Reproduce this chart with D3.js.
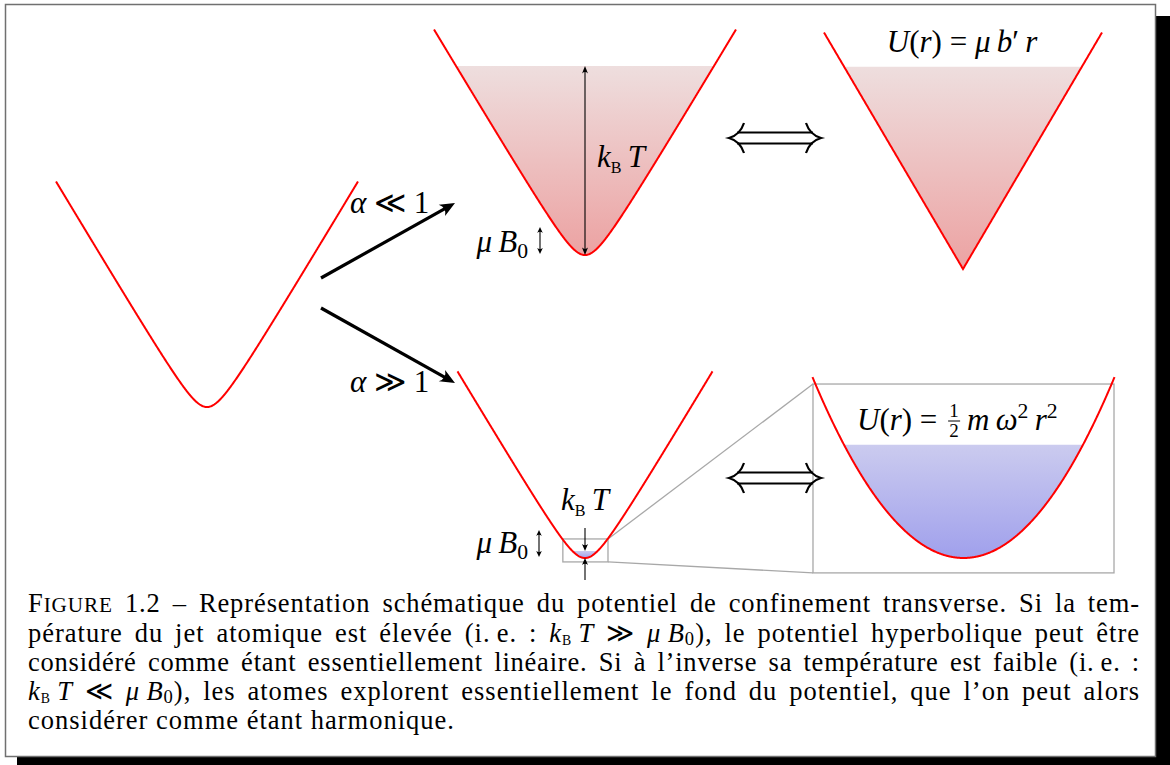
<!DOCTYPE html>
<html>
<head>
<meta charset="utf-8">
<script src="https://cdn.jsdelivr.net/npm/d3@7"></script>
<style>
body { margin: 0; background: #fff; }
svg { display: block; }
text { font-family: "Liberation Serif", "DejaVu Serif", serif; fill: #000; white-space: pre; }
</style>
</head>
<body>
<svg width="1170" height="765"></svg>
<script>
// potentials, energies in units of mu B0, r in units of B0/b'
var panelNames = ['start', 'hot', 'linear', 'cold', 'harmonic'];
var panelKinds = ['hyperbolic', 'hyperbolic', 'linear', 'hyperbolic', 'harmonic'];
var panelRmax = [9, 9, 8.3, 7.6, 1.35];
var panelLevel = [null, 6.75, 7.1, 0.25, 0.57];   // thermal level k_B T above the minimum
var zoomWindowR = [-1.32, 1.37];                   // small window on the cold panel
var zoomWindowU = [-0.14, 0.68];
var harmonicWindowR = [-1.345, 1.345];
var harmonicWindowU = [-0.075, 0.876];
var regimeLabels = ['α ≪ 1', 'α ≫ 1'];

var captionLines = [
    [['F'], ['IGURE', 'smc'], [' 1.2 – Représentation schématique du potentiel de confinement transverse. Si la tem-']],
    [['pérature du jet atomique est élevée (i.\u2009e. : '], ['k', 'i'], ['B', 'sc'], ['\u2009'], ['T', 'i'], [' ≫ '], ['μ', 'i'], ['\u2009'], ['B', 'i'], ['0', 'sub'], ['), le potentiel hyperbolique peut être']],
    [['considéré comme étant essentiellement linéaire. Si à l’inverse sa température est faible (i.\u2009e. :']],
    [['k', 'i'], ['B', 'sc'], ['\u2009'], ['T', 'i'], [' ≪ '], ['μ', 'i'], ['\u2009'], ['B', 'i'], ['0', 'sub'], ['), les atomes explorent essentiellement le fond du potentiel, que l’on peut alors']],
    [['considérer comme étant harmonique.']]
];

var U = {
    hyperbolic: function (r) { return Math.sqrt(1 + r * r) - 1; },
    linear: function (r) { return Math.abs(r); },
    harmonic: function (r) { return r * r / 2; }
};
var Uinv = {
    hyperbolic: function (u) { return Math.sqrt((u + 1) * (u + 1) - 1); },
    linear: function (u) { return u; },
    harmonic: function (u) { return Math.sqrt(2 * u); }
};

// where each panel sits on the page
var layout = {
    start:    { cx: 207,   y0: 407, sx: 16.78, sy: 28 },
    hot:      { cx: 585,   y0: 255, sx: 16.78, sy: 28 },
    linear:   { cx: 963,   y0: 269, sx: 16.75, sy: 28.5 },
    cold:     { cx: 585,   y0: 558, sx: 16.78, sy: 28 },
    harmonic: { cx: 963.5, y0: 558, sx: 111.9, sy: 198.6 }
};

var svg = d3.select('svg');
var defs = svg.append('defs');

// frame with shadow
svg.append('rect').attr('x', 17).attr('y', 16).attr('width', 1153).attr('height', 760).attr('fill', '#000');
svg.append('rect').attr('x', 5.5).attr('y', 4.5).attr('width', 1150).attr('height', 752)
    .attr('fill', '#fff').attr('stroke', '#707070').attr('stroke-width', 1.5);

var scales = {};
panelNames.forEach(function (n, i) {
    var L = layout[n], rm = panelRmax[i];
    scales[n] = {
        x: d3.scaleLinear().domain([-rm, rm]).range([L.cx - rm * L.sx, L.cx + rm * L.sx]),
        y: d3.scaleLinear().domain([0, 1]).range([L.y0, L.y0 - L.sy])
    };
});

function gradient(id, y1, y2, c1, c2) {
    var g = defs.append('linearGradient').attr('id', id).attr('gradientUnits', 'userSpaceOnUse')
        .attr('x1', 0).attr('x2', 0).attr('y1', y1).attr('y2', y2);
    g.append('stop').attr('offset', 0).attr('stop-color', c1);
    g.append('stop').attr('offset', 1).attr('stop-color', c2);
}

// zoom window lines (under the curves)
var zs = scales.cold, hs = scales.harmonic;
var zx0 = zs.x(zoomWindowR[0]), zx1 = zs.x(zoomWindowR[1]);
var zy0 = zs.y(zoomWindowU[1]), zy1 = zs.y(zoomWindowU[0]);
var hx0 = hs.x(harmonicWindowR[0]), hx1 = hs.x(harmonicWindowR[1]);
var hy0 = hs.y(harmonicWindowU[1]), hy1 = hs.y(harmonicWindowU[0]);
var gray = svg.append('g').attr('fill', 'none').attr('stroke', '#a8a8a8').attr('stroke-width', 1.3);
gray.append('line').attr('x1', zx1).attr('y1', zy0).attr('x2', hx0).attr('y2', hy0);
gray.append('line').attr('x1', zx1).attr('y1', zy1).attr('x2', hx0).attr('y2', hy1);

// fills and curves
panelNames.forEach(function (n, i) {
    var s = scales[n], kind = panelKinds[i], f = U[kind], rm = panelRmax[i];
    var lev = panelLevel[i];
    if (lev !== null) {
        var rf = Uinv[kind](lev);
        var blue = (n === 'cold' || n === 'harmonic');
        gradient('g' + n, s.y(lev), s.y(0),
            blue ? '#cbcbef' : '#eedede', blue ? '#a0a0ec' : '#eca2a2');
        var pts = d3.range(-rf, rf + 1e-9, rf / 150);
        svg.append('path')
            .attr('d', d3.area()
                .x(function (r) { return s.x(r); })
                .y0(s.y(lev))
                .y1(function (r) { return s.y(f(r)); })(pts))
            .attr('fill', 'url(#g' + n + ')');
    }
    var rs = d3.range(-rm, rm + 1e-9, rm / 300);
    svg.append('path')
        .attr('d', d3.line()
            .x(function (r) { return s.x(r); })
            .y(function (r) { return s.y(f(r)); })(rs))
        .attr('fill', 'none').attr('stroke', '#ff0000').attr('stroke-width', 2);
});

gray.append('rect').attr('x', zx0).attr('y', zy0).attr('width', zx1 - zx0).attr('height', zy1 - zy0);
gray.append('rect').attr('x', hx0).attr('y', hy0).attr('width', hx1 - hx0).attr('height', hy1 - hy0);

// arrows
function head(x, y, ang, len, w) {
    var p = 'M0,0 L' + (-len) + ',' + (-w) + ' Q' + (-len * 0.62) + ',0 ' + (-len) + ',' + w + ' Z';
    svg.append('path').attr('d', p).attr('fill', '#000')
        .attr('transform', 'translate(' + x + ',' + y + ') rotate(' + ang + ')');
}
function arrow(x1, y1, x2, y2, o) {
    var ang = Math.atan2(y2 - y1, x2 - x1);
    var deg = ang * 180 / Math.PI;
    var bx = x2 - Math.cos(ang) * o.len * 0.6, by = y2 - Math.sin(ang) * o.len * 0.6;
    var ax = x1, ay = y1;
    if (o.both) { ax = x1 + Math.cos(ang) * o.len * 0.6; ay = y1 + Math.sin(ang) * o.len * 0.6; }
    svg.append('line').attr('x1', ax).attr('y1', ay).attr('x2', bx).attr('y2', by)
        .attr('stroke', '#000').attr('stroke-width', o.sw);
    head(x2, y2, deg, o.len, o.w);
    if (o.both) head(x1, y1, deg + 180, o.len, o.w);
}
var thick = { len: 15, w: 6.5, sw: 3.2 };
arrow(321, 278, 455, 203, thick);
arrow(321, 308, 455, 383, thick);

var thin = { len: 7.5, w: 3, sw: 1.1, both: true };
var hot = scales.hot, cold = scales.cold;
arrow(hot.x(0), hot.y(0), hot.x(0), hot.y(panelLevel[1]), thin);
var small = { len: 6, w: 2.8, sw: 1.1, both: true };
arrow(540, hot.y(0) - 1, 540, hot.y(1), small);
arrow(539, cold.y(0) - 1, 539, cold.y(1), small);
var one = { len: 7, w: 3, sw: 1.1 };
arrow(cold.x(0), cold.y(panelLevel[3]) - 23, cold.x(0), cold.y(panelLevel[3]), one);
arrow(cold.x(0), cold.y(0) + 22, cold.x(0), cold.y(0), one);

// double implication arrows
function implies(cx, cy) {
    var g = svg.append('g').attr('fill', 'none').attr('stroke', '#000').attr('stroke-width', 2.2);
    g.append('path').attr('d', 'M' + (cx - 38) + ',' + (cy - 5.5) + 'H' + (cx + 38) +
        'M' + (cx - 38) + ',' + (cy + 5.5) + 'H' + (cx + 38));
    g.append('path').attr('d', 'M' + (cx - 31) + ',' + (cy - 15) + ' Q' + (cx - 35) + ',' + (cy - 3) + ' ' + (cx - 46) + ',' + cy +
        ' Q' + (cx - 35) + ',' + (cy + 3) + ' ' + (cx - 31) + ',' + (cy + 15));
    g.append('path').attr('d', 'M' + (cx + 31) + ',' + (cy - 15) + ' Q' + (cx + 35) + ',' + (cy - 3) + ' ' + (cx + 46) + ',' + cy +
        ' Q' + (cx + 35) + ',' + (cy + 3) + ' ' + (cx + 31) + ',' + (cy + 15));
}
implies(775, 138);
implies(775, 478);

// text with math runs
function mathText(x, y, parts, size, anchor, low) {
    var t = svg.append('text').attr('x', x).attr('y', y).attr('font-size', size)
        .attr('text-anchor', anchor || 'start');
    var cur = 0, drop = low || 0.2;
    parts.forEach(function (p) {
        var k = p[1] || 'r', shift = 0, fs = size;
        if (k === 'sub') { shift = drop * size; fs = 0.7 * size; }
        if (k === 'sc') { shift = drop * size; fs = 0.52 * size; }
        if (k === 'sup') { shift = -0.38 * size; fs = 0.7 * size; }
        if (k === 'smc') { fs = 0.8 * size; }
        t.append('tspan').attr('dy', shift - cur).attr('font-size', fs)
            .attr('font-style', k === 'i' ? 'italic' : 'normal').text(p[0]);
        cur = shift;
    });
    return t;
}

var M = 31;
mathText(350, 213, [['α', 'i'], [' ≪ 1']], M);
mathText(350, 392, [['α', 'i'], [' ≫ 1']], M);
mathText(597, 167, [['k', 'i'], ['B', 'sc'], ['\u2009'], ['T', 'i']], M);
mathText(528, 252, [['μ', 'i'], ['\u2009'], ['B', 'i'], ['0', 'sub']], M, 'end');
mathText(585, 510, [['k', 'i'], ['B', 'sc'], ['\u2009'], ['T', 'i']], M, 'middle');
mathText(528, 553, [['μ', 'i'], ['\u2009'], ['B', 'i'], ['0', 'sub']], M, 'end');
mathText(962, 52, [['U', 'i'], ['('], ['r', 'i'], [') = '], ['μ', 'i'], ['\u2009'], ['b', 'i'], ['′'], ['\u2009'], ['r', 'i']], M, 'middle');

var t1 = mathText(857, 430, [['U', 'i'], ['('], ['r', 'i'], [') = ']], M);
var fx = 857 + t1.node().getComputedTextLength() + 3;
svg.append('text').attr('x', fx + 6).attr('y', 417).attr('font-size', 19).attr('text-anchor', 'middle').text('1');
svg.append('line').attr('x1', fx).attr('x2', fx + 12).attr('y1', 421).attr('y2', 421).attr('stroke', '#000').attr('stroke-width', 1);
svg.append('text').attr('x', fx + 6).attr('y', 437).attr('font-size', 19).attr('text-anchor', 'middle').text('2');
mathText(fx + 19, 430, [['m', 'i'], ['\u2009'], ['ω', 'i'], ['2', 'sup'], ['\u2009'], ['r', 'i'], ['2', 'sup']], M);

// caption, justified: part of the slack goes to letters, the rest to word spaces
var capX = 28, capBase = [612, 641.5, 670.7, 700, 729], capEnd = [1140, 1140, 1140, 1140, 455];
captionLines.forEach(function (line, i) {
    var str = line.map(function (p) { return p[0]; }).join('');
    var t = mathText(capX, capBase[i], line, 26.5, 'start', 0.13);
    var natural = t.node().getComputedTextLength();
    var extra = (capEnd[i] - capX) - natural;
    var spaces = str.split(' ').length - 1;
    var share = i < 4 ? 0.6 : 1;
    var ls = extra * share / str.length;
    t.attr('letter-spacing', ls);
    if (i < 4 && spaces > 0) t.attr('word-spacing', extra * (1 - share) / spaces);
});
</script>
</body>
</html>
